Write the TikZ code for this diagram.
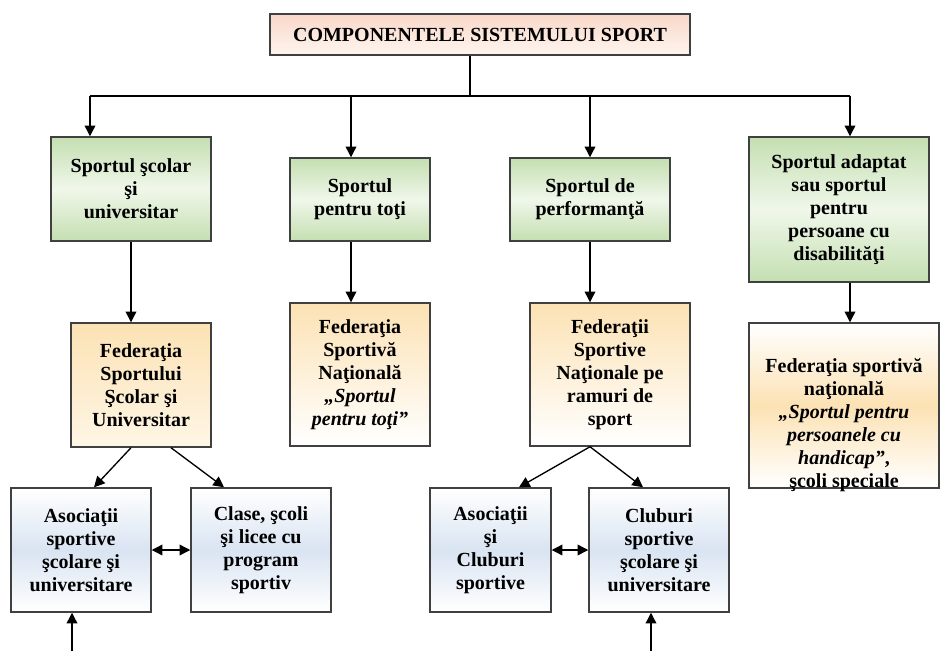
\documentclass[tikz,border=0pt]{standalone}
\usepackage{fontspec}
\setmainfont{Liberation Serif}
\usetikzlibrary{arrows.meta,calc}
\definecolor{titlePink}{RGB}{249,216,200}
\definecolor{titleLight}{RGB}{254,245,240}
\definecolor{greenDark}{RGB}{196,223,177}
\definecolor{greenLight}{RGB}{240,247,234}
\definecolor{peach}{RGB}{252,226,180}
\definecolor{peachLight}{RGB}{254,246,230}
\definecolor{blueMid}{RGB}{217,228,242}
\begin{document}
\begin{tikzpicture}
        [x=0.75pt, y=-0.75pt,
        >={Triangle[length=8pt,width=8pt]},
        txt/.style={align=center, inner sep=2pt, font=\bfseries\fontsize{15}{17.25}\selectfont},
        box/.style={txt, rectangle, draw=black!75, line width=1.1pt},
        boxTitle/.style={box, top color=titlePink, bottom color=titleLight},
        boxGreen/.style={box, top color=greenDark, bottom color=greenDark, middle color=greenLight},
        boxOrange/.style={box, top color=peach, bottom color=white},
        boxBlue/.style={box, top color=white, bottom color=white, middle color=blueMid},
        link/.style={line width=1pt, black}]
        \useasboundingbox (0,0) rectangle (940,651);

        \node[boxTitle, minimum width=315pt, minimum height=30.75pt] (T) at (480,34.5) {COMPONENTELE SISTEMULUI SPORT};

        \node[boxGreen, minimum width=120pt, minimum height=78pt] (B1) at (131,189) {Sportul şcolar\\şi\\universitar};
        \node[boxGreen, minimum width=105pt, minimum height=62.25pt] (B2) at (360,199.5) {Sportul\\pentru toţi};
        \node[boxGreen, minimum width=120pt, minimum height=62.25pt] (B3) at (590,199.5) {Sportul de\\performanţă};
        \node[boxGreen, minimum width=135pt, minimum height=108.75pt] (B4) at (839,209.5) {Sportul adaptat\\sau sportul\\pentru\\persoane cu\\disabilităţi};

        \node[boxOrange, top color=peach, bottom color=peachLight, minimum width=105pt, minimum height=93pt] (F1) at (141,385) {Federaţia\\Sportului\\Şcolar şi\\Universitar};
        \node[boxOrange, minimum width=105pt, minimum height=107.25pt] (F2) at (360,374.5) {Federaţia\\Sportivă\\Naţională\\\textit{„Sportul}\\\textit{pentru toţi”}};
        \node[boxOrange, minimum width=120pt, minimum height=107.25pt] (F3) at (610,374.5) {Federaţii\\Sportive\\Naţionale pe\\ramuri de\\sport};
        \node[boxOrange, top color=white, bottom color=white, middle color=peach, minimum width=142.5pt, minimum height=123.75pt] (F4) at (844,405.5) {};
        \node[txt] (F4text) at (844,425) {Federaţia sportivă\\naţională\\\textit{„Sportul pentru}\\\textit{persoanele cu}\\\textit{handicap”},\\şcoli speciale};

        \node[boxBlue, minimum width=105pt, minimum height=93pt] (A1) at (81,550) {Asociaţii\\sportive\\şcolare şi\\universitare};
        \node[boxBlue, minimum width=105pt, minimum height=93pt] (C1) at (261,550) {Clase, şcoli\\şi licee cu\\program\\sportiv};
        \node[boxBlue, minimum width=90.75pt, minimum height=93pt] (A2) at (490.5,550) {Asociaţii\\şi\\Cluburi\\sportive};
        \node[boxBlue, minimum width=105pt, minimum height=93pt] (C2) at (659,550) {Cluburi\\sportive\\şcolare şi\\universitare};

        % bus under the title
        \coordinate (J) at (470,96);
        \coordinate (b1) at (90,96);
        \coordinate (b2) at (351,96);
        \coordinate (b3) at (590,96);
        \coordinate (b4) at (850,96);
        \coordinate (u1) at (72,651);
        \coordinate (u2) at (651,651);

        \draw[link] (T.south -| J) -- (J);
        \draw[link] (b1) -- (b4);
        \draw[link, ->] (b1) -- (b1 |- B1.north);
        \draw[link, ->] (b2) -- (b2 |- B2.north);
        \draw[link, ->] (b3) -- (b3 |- B3.north);
        \draw[link, ->] (b4) -- (b4 |- B4.north);

        \draw[link, ->] (B1.south) -- (B1.south |- F1.north);
        \draw[link, ->] (b2 |- B2.south) -- (b2 |- F2.north);
        \draw[link, ->] (B3.south) -- (B3.south |- F3.north);
        \draw[link, ->] (b4 |- B4.south) -- (b4 |- F4.north);

        \draw[link, ->] ($(F1.south)+(-10,0)$) -- ($(A1.north)+(13,0)$);
        \draw[link, ->] ($(F1.south)+(30,0)$) -- ($(C1.north)+(-37,0)$);
        \draw[link, ->] ($(F3.south)+(-20,0)$) -- ($(A2.north)+(28.5,0)$);
        \draw[link, ->] ($(F3.south)+(-20,0)$) -- ($(C2.north)+(-16,0)$);

        \draw[link, <->] (A1.east) -- (C1.west);
        \draw[link, <->] (A2.east) -- (C2.west);

        \draw[link, ->] (u1) -- (u1 |- A1.south);
        \draw[link, ->] (u2) -- (u2 |- C2.south);
\end{tikzpicture}
\end{document}
